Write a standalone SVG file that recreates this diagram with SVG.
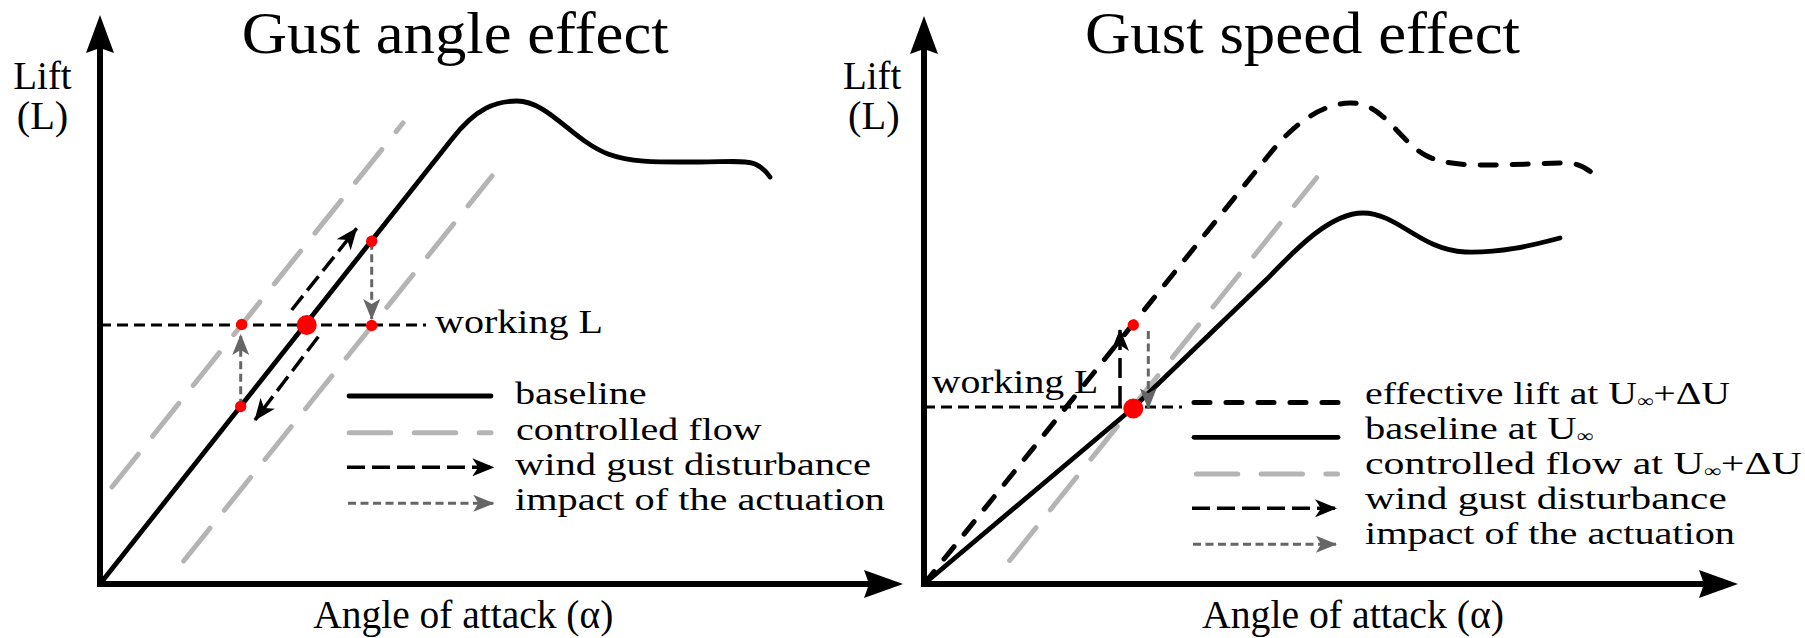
<svg xmlns="http://www.w3.org/2000/svg" width="1805" height="638" viewBox="0 0 1805 638" font-family="'Liberation Serif', 'Times New Roman', Tinos, serif">
<style>
text{font-family:'Liberation Serif','Times New Roman',Tinos,serif;fill:#000}
.title{font-size:59px}
.lab{font-size:39px}
.leg{font-size:31.5px}
.wl{font-size:34px}
.sub{font-size:18px}
.axis{stroke:#000;stroke-width:6;fill:none}
.base{stroke:#000;stroke-width:4.8;fill:none;stroke-linejoin:round;stroke-linecap:round}
.eff{stroke:#000;stroke-width:5;fill:none;stroke-dasharray:16 16;stroke-linecap:round}
.ctrl{stroke:#b4b4b4;stroke-width:5;fill:none;stroke-dasharray:42 23;stroke-linecap:round}
.gust{stroke:#000;stroke-width:3.5;fill:none;stroke-dasharray:18 7}
.act{stroke:#666;stroke-width:3;fill:none;stroke-dasharray:8 4.5}
.work{stroke:#000;stroke-width:3;fill:none;stroke-dasharray:11 6}
.dot{fill:#ff0000}
</style>
<defs>
<marker id="ahBlack" markerUnits="userSpaceOnUse" viewBox="0 0 22 18" markerWidth="22" markerHeight="18" refX="21" refY="9" orient="auto">
<path d="M0,0 L22,9 L0,18 L6,9 Z" fill="#000"/>
</marker>
<marker id="ahGray" markerUnits="userSpaceOnUse" viewBox="0 0 21 17" markerWidth="21" markerHeight="17" refX="20" refY="8.5" orient="auto">
<path d="M0,0 L21,8.5 L0,17 L5,8.5 Z" fill="#666"/>
</marker>
</defs>

<g id="left-panel">
  <g id="left-axes">
    <line class="axis" x1="100" y1="587" x2="100" y2="48"/>
    <polygon points="100,15 114,53 100,48 86,53" fill="#000"/>
    <line class="axis" x1="97" y1="584" x2="870" y2="584"/>
    <polygon points="903,584 864,570 869,584 864,598" fill="#000"/>
    <text class="lab" x="13.3" y="89.3" textLength="58.4" lengthAdjust="spacingAndGlyphs">Lift</text>
    <text class="lab" x="16.7" y="129.3" textLength="51.6" lengthAdjust="spacingAndGlyphs">(L)</text>
    <text class="lab" x="313.3" y="628.3" textLength="300" lengthAdjust="spacingAndGlyphs">Angle of attack (α)</text>
  </g>
  <text id="left-title" class="title" x="241.7" y="53.3" textLength="427" lengthAdjust="spacingAndGlyphs">Gust angle effect</text>
  <g id="left-curves">
    <line class="ctrl" x1="112" y1="487" x2="403" y2="123"/>
    <line class="ctrl" x1="183.7" y1="561" x2="492" y2="176"/>
    <path class="base" d="M100,584 L452,139 C476,108 496,101 517,101 C548,101 572,140 608,154 C632,163 660,162 700,162 C725,162 745,160 755,164 C762,167 766,171 770,177"/>
  </g>
  <g id="left-working">
    <line class="work" x1="100" y1="325" x2="426" y2="325"/>
    <text class="wl" x="435" y="333" textLength="168" lengthAdjust="spacingAndGlyphs">working L</text>
  </g>
  <g id="left-connectors">
    <line class="gust" x1="291.7" y1="310" x2="356.7" y2="228.3" marker-end="url(#ahBlack)"/>
    <line class="gust" x1="318.3" y1="336.7" x2="255" y2="420" marker-end="url(#ahBlack)"/>
    <line class="act" x1="240.7" y1="406.7" x2="240.7" y2="335" marker-end="url(#ahGray)"/>
    <line class="act" x1="371.7" y1="241.7" x2="371.7" y2="319" marker-end="url(#ahGray)"/>
  </g>
  <g id="left-points">
    <circle class="dot" cx="306.7" cy="325" r="10"/>
    <circle class="dot" cx="241.7" cy="324.5" r="5.7"/>
    <circle class="dot" cx="371.7" cy="325.5" r="5.7"/>
    <circle class="dot" cx="371.7" cy="241.2" r="5.7"/>
    <circle class="dot" cx="240.7" cy="406.5" r="5.7"/>
  </g>
  <g id="left-legend">
    <line class="base" x1="349" y1="396" x2="491" y2="396"/>
    <text class="leg" x="515" y="404.3" textLength="131.7" lengthAdjust="spacingAndGlyphs">baseline</text>
    <line class="ctrl" x1="349.2" y1="432.7" x2="491" y2="432.7" style="stroke-dasharray:41.6 23.4"/>
    <text class="leg" x="516" y="439.5" textLength="245.7" lengthAdjust="spacingAndGlyphs">controlled flow</text>
    <line class="gust" x1="347" y1="467.3" x2="493.3" y2="467.3" marker-end="url(#ahBlack)"/>
    <text class="leg" x="515" y="474.5" textLength="356" lengthAdjust="spacingAndGlyphs">wind gust disturbance</text>
    <line class="act" x1="348" y1="503.3" x2="493.3" y2="503.3" marker-end="url(#ahGray)"/>
    <text class="leg" x="515" y="510" textLength="370" lengthAdjust="spacingAndGlyphs">impact of the actuation</text>
  </g>
</g>

<g id="right-panel">
  <g id="right-axes">
    <line class="axis" x1="924" y1="587" x2="924" y2="49"/>
    <polygon points="924,16 938,54 924,49 910,54" fill="#000"/>
    <line class="axis" x1="921" y1="584" x2="1705" y2="584"/>
    <polygon points="1738,584 1699,570 1704,584 1699,598" fill="#000"/>
    <text class="lab" x="843" y="89.3" textLength="58.4" lengthAdjust="spacingAndGlyphs">Lift</text>
    <text class="lab" x="848" y="129.3" textLength="51.6" lengthAdjust="spacingAndGlyphs">(L)</text>
    <text class="lab" x="1202" y="628.3" textLength="302" lengthAdjust="spacingAndGlyphs">Angle of attack (α)</text>
  </g>
  <text id="right-title" class="title" x="1085" y="53.3" textLength="435" lengthAdjust="spacingAndGlyphs">Gust speed effect</text>
  <g id="right-curves">
    <line class="ctrl" x1="1009.7" y1="560.5" x2="1316.7" y2="177.7"/>
    <path class="eff" d="M924,584 L1268,156 C1290,128 1318,104 1350,103 C1383,102 1398,140 1425,155 C1445,166 1475,165 1500,165 L1560,163 C1578,162 1588,168 1597,178"/>
    <path class="base" d="M924,584 L1133,408 L1268,278 C1295,250 1330,213 1363,213 C1398,213 1420,250 1465,252 C1500,253 1530,246 1560,238"/>
  </g>
  <g id="right-working">
    <line class="work" x1="924" y1="407" x2="1182" y2="407"/>
    <text class="wl" x="931.7" y="393" textLength="166.7" lengthAdjust="spacingAndGlyphs">working L</text>
  </g>
  <g id="right-connectors">
    <line class="gust" x1="1120" y1="406" x2="1120" y2="330" style="stroke-dasharray:20 8" marker-end="url(#ahBlack)"/>
    <line class="act" x1="1148.3" y1="331" x2="1148.3" y2="408.3" marker-end="url(#ahGray)"/>
  </g>
  <g id="right-points">
    <circle class="dot" cx="1133.3" cy="408.5" r="10"/>
    <circle class="dot" cx="1133.3" cy="325" r="5.7"/>
  </g>
  <g id="right-legend">
    <line class="eff" x1="1194" y1="402.5" x2="1338" y2="402.5"/>
    <text class="leg" x="1365" y="403.5" textLength="365" lengthAdjust="spacingAndGlyphs">effective lift at U<tspan class="sub" dy="3.5">∞</tspan><tspan dy="-3.5">+ΔU</tspan></text>
    <line class="base" x1="1194" y1="437.3" x2="1338" y2="437.3"/>
    <text class="leg" x="1365" y="438.5" textLength="228" lengthAdjust="spacingAndGlyphs">baseline at U<tspan class="sub" dy="3.5">∞</tspan></text>
    <line class="ctrl" x1="1196.4" y1="474" x2="1337.5" y2="474" style="stroke-dasharray:41.4 23.3"/>
    <text class="leg" x="1365" y="473.5" textLength="436.7" lengthAdjust="spacingAndGlyphs">controlled flow at U<tspan class="sub" dy="3.5">∞</tspan><tspan dy="-3.5">+ΔU</tspan></text>
    <line class="gust" x1="1192" y1="508.3" x2="1336" y2="508.3" marker-end="url(#ahBlack)"/>
    <text class="leg" x="1365" y="508.5" textLength="361.7" lengthAdjust="spacingAndGlyphs">wind gust disturbance</text>
    <line class="act" x1="1193" y1="544.3" x2="1336" y2="544.3" marker-end="url(#ahGray)"/>
    <text class="leg" x="1365" y="543.5" textLength="370" lengthAdjust="spacingAndGlyphs">impact of the actuation</text>
  </g>
</g>
</svg>
